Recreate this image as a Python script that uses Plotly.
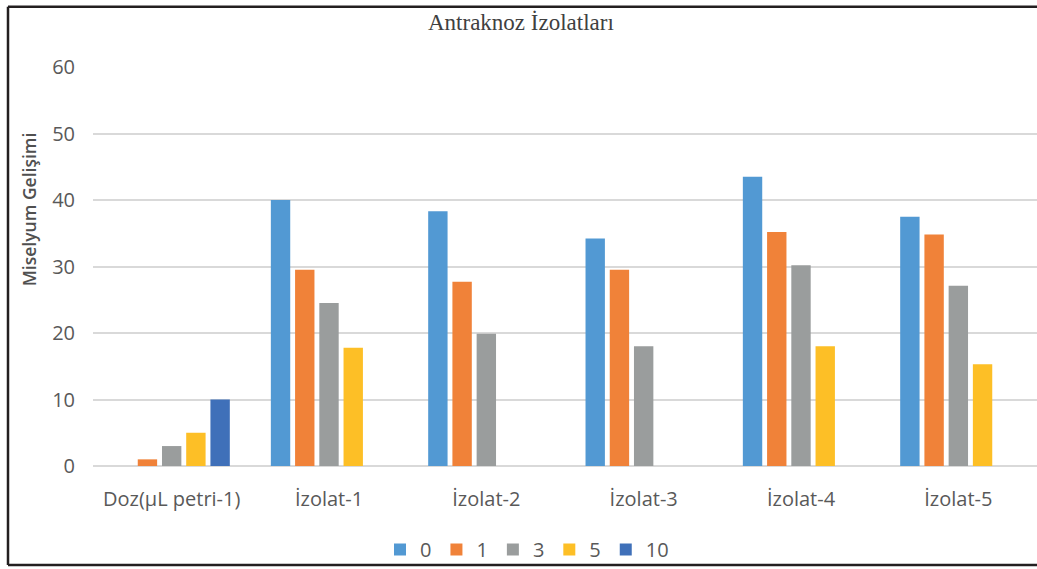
import plotly.graph_objects as go

categories = ["Doz(µL petri-1)", "İzolat-1", "İzolat-2", "İzolat-3", "İzolat-4", "İzolat-5"]
series_names = ["0", "1", "3", "5", "10"]
s0 = [0, 40.0, 38.3, 34.2, 43.5, 37.5]
s1 = [1, 29.5, 27.7, 29.5, 35.2, 34.8]
s3 = [3, 24.5, 19.9, 18.0, 30.2, 27.1]
s5 = [5, 17.8, None, None, 18.0, 15.3]
s10 = [10, None, None, None, None, None]
colors = ["#5299D3", "#F08239", "#9A9D9D", "#FDBF26", "#3F70B9"]

W, H = 1037, 569
L, R, T, B = 93, 0, 67, 101
pw, ph = W - L - R, H - T - B

fig = go.Figure()
for name, vals, col in zip(series_names, [s0, s1, s3, s5, s10], colors):
    fig.add_trace(go.Bar(x=categories, y=vals, name=name,
                         marker=dict(color=col, line=dict(width=0))))

def px_x(x):
    return (x - L) / pw

def px_y(y):
    return (H - B - y) / ph

font_sans = "'Open Sans', sans-serif"
fig.update_layout(
    width=W, height=H,
    margin=dict(l=L, r=R, t=T, b=B),
    paper_bgcolor="white", plot_bgcolor="white",
    barmode="group", bargap=0.23, bargroupgap=0.2,
    showlegend=True,
    legend=dict(orientation="h", x=px_x(527), xanchor="center", y=px_y(552), yanchor="middle",
                font=dict(family=font_sans, size=20, color="#595959"),
                bgcolor="rgba(0,0,0,0)", itemwidth=30, traceorder="normal"),
    xaxis=dict(showgrid=False, showline=False, ticks="",
               tickfont=dict(family=font_sans, size=20, color="#595959"),
               ticklabelstandoff=19),
    yaxis=dict(range=[0, 60], dtick=10, showgrid=True, gridcolor="#D9D9D9", gridwidth=2,
               zeroline=True, zerolinecolor="#D9D9D9", zerolinewidth=2,
               showline=False, ticks="",
               tickfont=dict(family=font_sans, size=20, color="#595959"),
               ticklabelstandoff=17),
    annotations=[
        dict(text="Antraknoz İzolatları", xref="paper", yref="paper",
             x=px_x(521), y=px_y(22), xanchor="center", yanchor="middle", showarrow=False,
             font=dict(family="'Liberation Serif', serif", size=23, color="#404040")),
        dict(text="Miselyum Gelişimi", xref="paper", yref="paper",
             x=px_x(29), y=px_y(210), xanchor="center", yanchor="middle", showarrow=False,
             textangle=-90,
             font=dict(family=font_sans, size=17.5, color="#505050", weight=600)),
    ],
    shapes=[
        dict(type="line", xref="paper", yref="paper", x0=px_x(8), x1=px_x(1037), y0=px_y(6.5), y1=px_y(6.5),
             line=dict(color="#231F20", width=2.5)),
        dict(type="line", xref="paper", yref="paper", x0=px_x(8), x1=px_x(1037), y0=px_y(567.5), y1=px_y(567.5),
             line=dict(color="#231F20", width=2.5)),
        dict(type="line", xref="paper", yref="paper", x0=px_x(8), x1=px_x(8), y0=px_y(6.5), y1=px_y(567.5),
             line=dict(color="#231F20", width=2.5)),
    ],
)

fig.write_html("out.html", config={"displayModeBar": False},
               post_script="document.body.style.margin='0';document.body.style.overflow='hidden';")
